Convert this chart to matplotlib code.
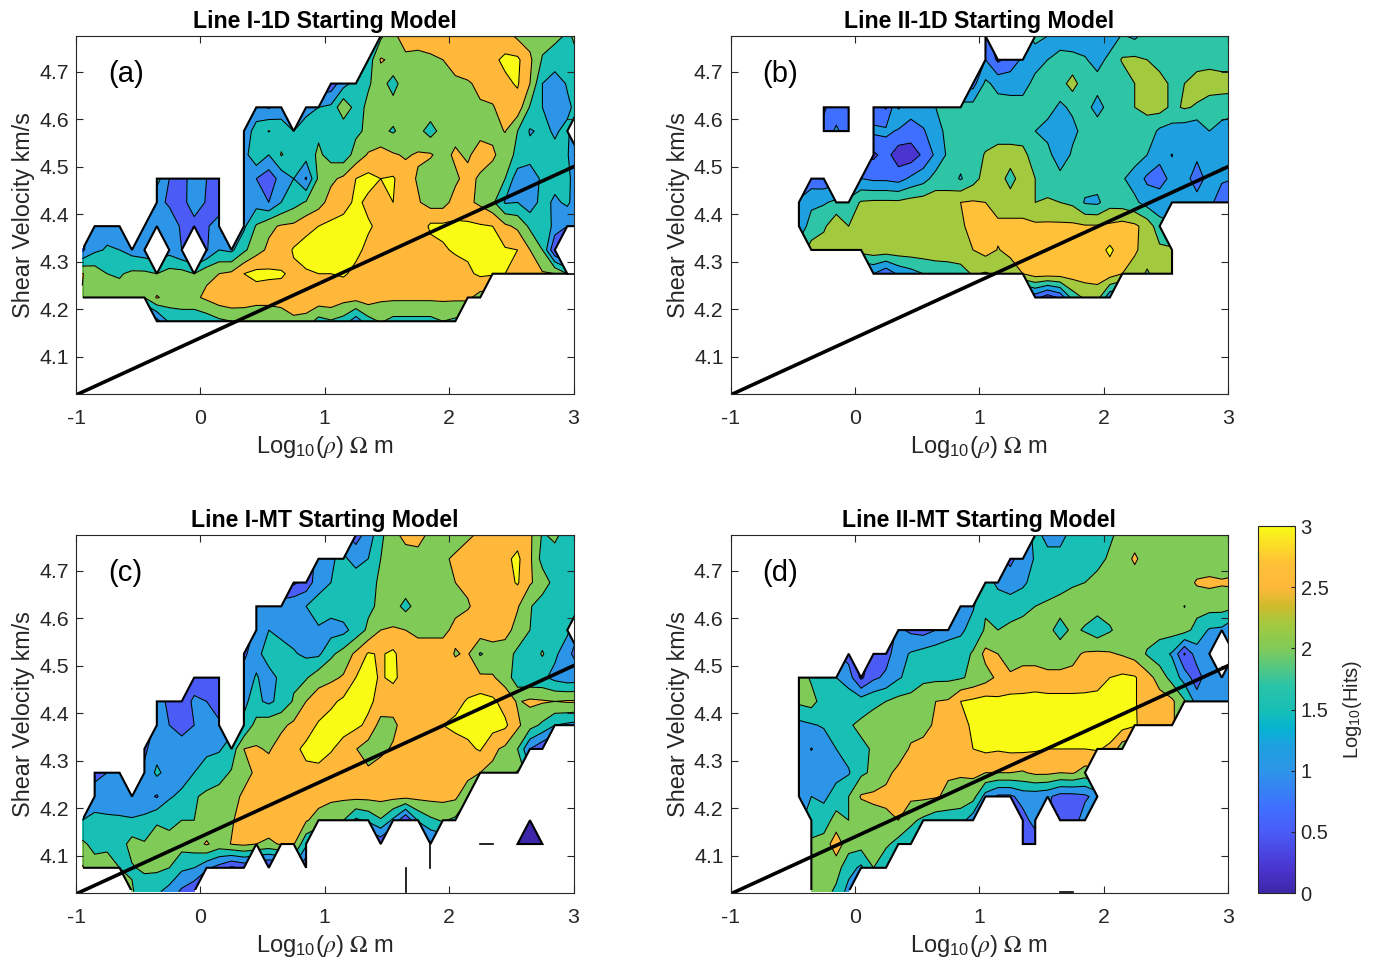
import numpy as np
import matplotlib
matplotlib.use('Agg')
import matplotlib.pyplot as plt
from matplotlib.colors import LinearSegmentedColormap
from matplotlib.cm import ScalarMappable
from matplotlib.colors import Normalize
from matplotlib.patches import PathPatch, Rectangle

plt.rcParams['font.family'] = ['Liberation Sans', 'DejaVu Sans']
plt.rcParams['axes.unicode_minus'] = False
plt.rcParams['mathtext.fontset'] = 'custom'
plt.rcParams['mathtext.rm'] = 'Liberation Sans'
plt.rcParams['mathtext.it'] = 'STIXGeneral:italic'
plt.rcParams['mathtext.cal'] = 'STIXGeneral'
plt.rcParams['mathtext.bf'] = 'Liberation Sans:bold'

# grid of the hit counts: log10 resistivity columns, shear velocity rows
log_rho = [-0.95 + 0.1 * k for k in range(41)]
vs = [4.025 + 0.05 * k for k in range(16)]

line_x = [-1, 3]
line_y = [4.02, 4.5]

# every row runs from 4.775 km/s down to 4.025 km/s, as (first column, values)
hits_a = [
    [(24, [1.9, 2.4, 2.7, 2.8, 2.8, 2.8, 2.8, 2.8, 2.8, 2.8, 2.7, 2.4, 2.3, 2.2, 2.1, 1.95, 2.1])],
    [(23, [1.7, 2.55, 2.4, 2.4, 2.3, 2.4, 2.5, 2.7, 2.8, 2.8, 2.9, 3.1, 3.1, 2.6, 1.95, 1.8, 1.9, 2.0])],
    [(20, [.7, 1.3, 1.7, 1.95, 2.2, 1.8, 2.3, 2.3, 2.3, 2.3, 2.4, 2.45, 2.6, 2.8, 2.9, 3.05, 2.5, 1.5, 1.2, 1.55, 1.8])],
    [(14, [1.2, .95, 1.2]), (18, [1.3, 1.5, 1.6, 2.4, 1.8, 2.1, 2.2, 2.2, 2.3, 2.3, 2.3, 2.3, 2.3, 2.4, 2.45, 2.45, 2.8, 2.8, 1.95, 1.5, 1.2, 1.4, 1.7])],
    [(13, [1.2, 1.7, 2.02, 1.8, 1.5, 1.8, 1.9, 1.8, 1.6, 1.9, 2.1, 2.1, 1.95, 2.2, 2.15, 1.8, 2.2, 2.3, 2.3, 2.3, 2.35, 2.52, 2.0, 1.45, 1.6, 1.45, 1.6])],
    [(13, [1.3, 1.9, 1.5, 2.03, 1.8, 1.7, 2.1, 1.8, 1.7, 2.2, 2.55, 2.7, 2.55, 2.45, 2.55, 2.55, 2.3, 2.6, 2.4, 2.8, 2.6, 2.2, 1.9, 1.7, 1.6, 1.6, 1.55, .9])],
    [(6, [1.7, 1.0, .85, 1.2, 1.0, .8]), (13, [1.2, 1.0, .7, 1.2, 1.5, .95, 2.1, 2.4, 2.6, 3.0, 3.15, 3.0, 3.05, 2.7, 2.45, 2.2, 2.3, 2.4, 2.7, 2.4, 2.2, 2.0, 1.2, 1.2, 1.6, 1.7, 1.7, .9])],
    [(6, [1.1, .95, .8, 1.3, .95, .75]), (13, [1.2, 1.3, 1.0, 1.5, 1.8, 2.05, 2.3, 2.7, 2.8, 3.1, 2.9, 2.7, 3.0, 2.8, 2.55, 2.3, 2.3, 2.7, 2.6, 2.4, 2.1, 1.45, 1.5, 1.2, 1.7, 1.4, 1.6, 1.1])],
    [(1, [1.4, 1.3, 1.2]), (5, [1.1, 1.2, 1.2, .95, .8, .95, 1.2]), (13, [1.4, 2.05, 2.4, 2.55, 2.6, 2.85, 3.0, 3.1, 3.2, 3.2, 3.05, 2.9, 2.8, 2.7, 2.6, 3.1, 3.1, 3.1, 3.1, 3.05, 3.0, 2.6, 2.4, 1.9, 2.0, 1.3, 1.0, 1.0])],
    [(0, [.9, 1.4, 1.55, 1.5, 1.3, 1.2]), (7, [1.3, 1.0]), (10, [.95, 1.5, 1.4, 1.9, 2.3, 2.6, 2.7, 3.05, 3.2, 3.3, 3.3, 3.3, 3.1, 2.9, 2.7, 2.7, 2.7, 2.7, 2.8, 2.95, 3.05, 3.1, 3.2, 3.15, 3.05, 3.0, 2.5, 2.0, .5])],
    [(0, [2.52, 2.3, 2.0, 1.95, 2.1, 2.1, 2.0, 2.2, 2.2, 2.0, 2.4, 2.5, 2.6, 3.0, 3.15, 3.1, 3.05, 2.9, 2.95, 3.0, 3.0, 3.05, 2.9, 2.8, 2.7, 2.7, 2.7, 2.7, 2.75, 2.8, 2.8, 2.9, 3.1, 3.05, 3.0, 2.8, 2.7, 2.55, 2.5, 2.0, 2.0])],
    [(0, [2.48, 2.3, 2.3, 2.2, 2.1, 2.0, 2.55, 2.3, 2.3, 2.4, 2.6, 2.8, 2.9, 2.8, 2.7, 2.7, 2.8, 2.8, 2.9, 2.9, 2.9, 2.7, 2.7, 2.8, 2.6, 2.6, 2.6, 2.6, 2.6, 2.6, 2.6, 2.6, 2.3])],
    [(6, [.8, 1.6, 1.7, 1.6, 1.7, 1.9, 2.0, 2.1, 2.1, 2.1, 2.1, 2.4, 2.3, 1.8, 1.95, 1.8, 1.2, 1.8, 2.05, 1.85, 1.85, 1.85, 1.85, 2.0, 1.9])],
    [],
    [],
    [],
]

hits_b = [
    [(20, [.9]), (24, [1.8, 1.7, 1.4, 1.4, 1.4, 1.4, 1.4, 1.75, 1.6, 1.9, 1.9, 1.9, 1.9, 1.9, 1.9, 1.9, 1.9])],
    [(20, [1.2, .6, .9, 1.3, 1.5, 1.7, 1.9, 1.85, 1.75, 1.5, 1.85, 2.25, 2.3, 2.2, 2.0, 2.0, 2.0, 2.0, 2.0, 2.0, 2.0])],
    [(19, [1.0, 1.8, 1.55, 1.5, 1.5, 1.85, 1.9, 2.0, 2.4, 1.9, 1.9, 1.9, 1.9, 2.2, 2.5, 2.4, 2.1, 2.2, 2.4, 2.5, 2.4, 2.4])],
    [(7, [.65, .9, .9]), (11, [.9, .65, 1.75, 1.4, 1.5, 1.7, 1.9, 1.9, 1.9, 1.9, 1.9, 1.9, 1.9, 1.9, 1.9, 1.6, 1.8, 1.9, 1.5, 1.9, 2.0, 2.2, 2.3, 2.4, 2.1, 2.25, 2.15, 1.9, 1.95, 1.9])],
    [(7, [.8, 1.3, .9]), (11, [1.3, 1.3, 1.15, 1.0, 1.15, 1.5, 1.85, 1.9, 1.9, 1.9, 1.95, 1.95, 1.95, 1.7, 1.5, 1.4, 1.55, 1.9, 2.0, 2.0, 2.1, 2.2, 2.0, 1.6, 1.5, 1.4, 1.3, 1.7, 1.5, 1.4])],
    [(11, [.6, .9, .4, .4, .8, 1.3, 1.8, 1.9, 1.9, 2.25, 2.4, 2.4, 2.35, 1.95, 1.9, 1.3, 1.8, 1.9, 1.9, 1.9, 1.9, 1.9, 1.7, 1.3, 1.19, 1.4, 1.3, 1.4, 1.4, 1.4])],
    [(6, [.9, .85]), (10, [1.2, 1.1, 1.1, 1.0, 1.3, 1.5, 1.9, 1.95, 1.65, 2.0, 2.4, 2.4, 2.05, 2.4, 2.2, 2.0, 1.9, 1.9, 1.9, 1.9, 1.9, 1.75, 1.5, 1.1, 1.05, 1.3, 1.4, .95, 1.4, 1.3, 1.2])],
    [(5, [1.3, 1.6, 1.65, 1.8, 1.9, 2.25, 2.3, 2.3, 2.3, 2.4, 2.45, 2.5, 2.45, 2.7, 2.75, 2.7, 2.5, 2.4, 2.4, 2.2, 2.25, 2.2, 2.1, 1.65, 1.6, 2.0, 1.95, 1.8, 1.5, 1.4, 1.3, 1.5, 1.4, 1.4, .8, .8])],
    [(5, [1.4, 1.9, 2.1, 2.6, 2.2, 2.4, 2.5, 2.5, 2.5, 2.5, 2.5, 2.5, 2.55, 2.6, 2.9, 3.0, 2.8, 2.85, 2.85, 2.8, 2.8, 2.8, 2.8, 2.75, 2.75, 2.8, 2.9, 2.8, 2.5, 1.9])],
    [(6, [2.4, 2.5, 2.5, 2.5, 2.4, 2.5, 2.5, 2.5, 2.5, 2.5, 2.5, 2.5, 2.5, 2.7, 2.9, 2.68, 2.8, 2.85, 2.95, 2.95, 3.0, 3.0, 3.0, 3.0, 3.3, 2.95, 2.8, 2.4, 2.3, 2.25])],
    [(11, [1.2, .8, 1.3, 1.5, 1.7, 1.85, 1.9, 2.0, 2.25, 2.15, 2.3, 2.5, 2.7, 2.95, 2.95, 2.95, 2.95, 2.95, 2.95, 2.95, 2.7, 2.4, 2.15, 2.4, 2.3])],
    [(24, [.9, .4, .8, 1.9, 2.3, 2.4, 1.3])],
    [],
    [],
    [],
    [],
]

hits_c = [
    [(22, [.8, 1.2, 1.9, 2.3, 2.7, 2.8, 2.3, 2.2, 2.2, 2.4, 2.6, 2.8, 2.8, 2.8, 2.6, 1.95, 2.1, 1.8, 1.8])],
    [(19, [1.2, 1.45, 1.6, 1.3, 1.5, 2.0, 2.2, 2.2, 2.2, 2.3, 2.4, 2.6, 2.8, 2.8, 2.8, 2.9, 3.1, 2.6, 1.8, 1.8, 1.7, 1.7])],
    [(17, [.4, .7, 1.3, 1.5, 1.7, 1.8, 1.9, 2.05, 2.2, 2.3, 2.2, 2.3, 2.4, 2.5, 2.6, 2.7, 2.8, 2.8, 3.05, 2.55, 2.3, 1.8, 1.7, 1.7])],
    [(14, [1.2, 1.2, 1.3, 1.4, 1.5, 1.7, 1.7, 1.8, 1.8, 1.9, 2.1, 2.2, 1.85, 2.2, 2.2, 2.3, 2.4, 2.45, 2.7, 2.8, 2.8, 2.55, 2.05, 1.7, 1.7, 1.7, 1.7])],
    [(14, [1.1, 1.5, 1.3, 1.3, 1.3, 1.45, 1.3, 1.35, 1.7, 2.1, 2.5, 2.55, 2.5, 2.4, 2.4, 2.4, 2.6, 2.8, 2.8, 2.8, 2.7, 2.3, 2.0, 1.7, 1.7, 1.6])],
    [(13, [.9, 1.3, 1.8, 1.8, 1.55, 1.4, 1.4, 1.9, 2.2, 2.6, 3.05, 2.95, 3.1, 2.7, 2.7, 2.7, 2.7, 2.47, 2.55, 1.95, 2.2, 2.2, 1.9, 1.7, 2.05, 1.6, 1.2, .6])],
    [(9, [.7, .75, .75]), (13, [1.2, 1.55, 1.25, 1.65, 1.9, 1.95, 2.3, 2.4, 2.55, 3.0, 3.15, 2.95, 3.1, 2.8, 2.7, 2.7, 2.7, 2.7, 2.7, 2.6, 2.55, 2.3, 1.7, 1.6, 1.6, 1.35, 1.2, 1.25])],
    [(6, [1.2, .9, .7, 1.1, 1.0, .7]), (13, [1.45, 1.6, 1.4, 1.65, 2.05, 2.5, 2.75, 2.9, 3.1, 3.1, 3.1, 2.85, 2.7, 2.7, 2.7, 2.7, 2.75, 2.85, 3.05, 3.2, 3.1, 2.8, 2.45, 2.6, 2.55, 2.5, 2.55, 2.55])],
    [(6, [1.1, 1.0, .75, 1.0, 1.2, 1.1]), (13, [1.55, 2.2, 2.3, 2.4, 2.6, 2.8, 3.05, 3.2, 3.2, 3.1, 2.9, 2.3, 2.4, 2.7, 2.7, 2.75, 3.0, 3.1, 3.15, 3.2, 3.2, 3.1, 2.6, 2.2, 1.9, 1.5, 1.4, 1.3])],
    [(5, [.9, 1.3, 1.3, 1.3, 1.35, 1.4, 1.45, 1.7, 2.5, 2.55, 2.45, 2.7, 2.9, 3.1, 3.3, 3.05, 2.8, 2.52, 2.25, 2.4, 2.55, 2.7, 2.7, 2.7, 2.7, 2.8, 2.9, 3.05, 2.6, 2.4, 2.0, 1.0, .6])],
    [(1, [.8, 1.0, 1.1]), (5, [1.1, 1.6, 1.3, 1.3, 1.5, 1.7, 1.8, 2.05, 2.3, 2.6, 2.7, 2.7, 2.8, 2.9, 2.8, 2.7, 2.7, 2.7, 2.6, 2.7, 2.7, 2.7, 2.7, 2.7, 2.7, 2.75, 2.7, 2.5, 2.4, 2.2, 2.55])],
    [(1, [1.3, 1.2, 1.1, 1.1, 1.2, .95, 1.45, 1.6, 1.95, 2.1, 2.2, 2.3, 2.6, 2.7, 2.7, 2.7, 2.7, 2.7, 2.7, 2.6, 2.6, 2.65, 2.65, 2.65, 2.65, 2.65, 2.65, 2.65, 2.65, 2.6, 2.1])],
    [(0, [1.5, 1.6, 1.6, 1.6, 1.55, 1.6, 1.95, 1.85, 2.0, 2.0, 2.2, 2.3, 2.45, 2.7, 2.8, 2.8, 2.8, 2.8, 2.55, 2.3, 2.2, 2.0, 1.4, 1.6, 1.95, 1.4, .5, 1.55, 1.9, 2.05, 1.9]), (36, [.2])],
    [(0, [2.1, 1.85, 1.9, 1.75, 2.2, 2.05, 2.2, 2.2, 2.2, 2.3, 2.55, 2.3, 2.52, 2.6, 2.5, 2.4, 2.55, 2.55, 1.6]), (24, [.6]), (28, [.9]), (32, [.2, .2]), (35, [.2, .2, .2])],
    [(0, [2.55, 2.2, 2.2, 2.0, 1.95, 2.1, 2.1, 2.0, 1.6, 1.5, 1.1, .8, .4, .6]), (15, [.3]), (18, [.5]), (26, [.2]), (28, [.2])],
    [(4, [2.05, 1.7, 1.6, 1.3, .9, .6]), (26, [.2])],
]

hits_d = [
    [(24, [1.6, 1.4, 1.3, 1.7, 1.8, 1.9, 1.95, 2.1, 2.2, 2.2, 2.2, 2.2, 2.2, 2.2, 2.2, 2.2, 2.2])],
    [(22, [.9, 1.2, 1.55, 1.6, 1.7, 1.75, 1.85, 1.9, 2.05, 2.2, 2.6, 2.2, 2.2, 2.2, 2.2, 2.2, 2.2, 2.2, 2.2])],
    [(20, [1.7, 1.4, 1.2, 1.4, 1.7, 1.7, 1.8, 1.95, 2.0, 2.1, 2.2, 2.2, 2.2, 2.2, 2.2, 2.3, 2.3, 2.55, 2.6, 2.55, 2.6])],
    [(18, [1.2, 1.45, 1.95, 1.75, 1.8, 1.85, 2.0, 2.1, 2.2, 2.2, 2.2, 2.2, 2.2, 2.2, 2.2, 2.2, 2.2, 2.2, 1.99, 2.2, 2.2, 2.2, 2.1])],
    [(13, [1.1, .9, .8, 1.0, 1.2, 1.4, 1.7, 2.05, 2.0, 2.1, 2.2, 2.2, 2.15, 1.8, 2.1, 1.95, 1.7, 1.95, 2.2, 2.2, 2.2, 2.2, 2.2, 2.2, 1.8, 1.45, 1.4, 1.0])],
    [(9, [.8]), (11, [.7, .8, 1.3, 1.55, 1.7, 1.8, 1.9, 1.8, 2.05, 2.65, 2.5, 2.35, 2.4, 2.3, 2.3, 2.3, 2.4, 2.55, 2.6, 2.55, 2.45, 2.3, 1.95, 1.7, 1.45, .45, 1.3, 1.4]), (40, [1.2])],
    [(5, [2.3, 1.92, 1.8, 1.5, 1.25, .4, .9, 1.1, 1.45, 1.65, 1.9, 1.9, 1.9, 1.95, 2.1, 2.3, 2.6, 2.55, 2.6, 2.7, 2.6, 2.6, 2.6, 2.65, 2.75, 3.0, 3.1, 3.05, 2.7, 2.3, 1.8, 1.3, .7, 1.4, 1.4, 1.3])],
    [(5, [2.1, 2.2, 1.75, 1.7, 1.8, 1.75, 1.9, 2.0, 2.15, 2.2, 2.3, 2.5, 2.55, 3.0, 3.1, 3.2, 3.1, 3.2, 3.2, 3.2, 3.2, 3.2, 3.2, 3.2, 3.2, 3.3, 3.3, 3.05, 2.7, 2.7, 2.6, 2.05, 1.3, 1.5, 1.3, 1.5])],
    [(5, [1.35, 1.45, 1.55, 1.98, 1.95, 2.1, 2.2, 2.3, 2.3, 2.35, 2.4, 2.55, 2.6, 2.8, 3.1, 3.3, 3.3, 3.3, 3.3, 3.3, 3.3, 3.3, 3.3, 3.3, 3.3, 3.3, 3.2, 3.05, 2.8, 2.7, 2.6])],
    [(5, [1.25, .98, 1.2, 1.5, 1.7, 1.9, 2.05, 2.2, 2.3, 2.55, 2.6, 2.7, 2.7, 2.8, 3.0, 3.1, 3.05, 3.1, 3.1, 3.05, 3.0, 3.0, 3.0, 3.0, 3.05, 2.9, 2.2])],
    [(5, [1.2, 1.3, 1.3, 1.35, 1.45, 1.9, 2.1, 2.4, 2.6, 2.65, 2.7, 2.6, 2.55, 2.55, 2.6, 2.5, 2.5, 2.5, 2.45, 2.6, 2.6, 2.5, 2.55, 2.3])],
    [(5, [1.2, 1.5, 1.4, 1.7, 2.0, 2.55, 2.6, 2.6, 2.6, 2.6, 2.6, 2.55, 2.4, 2.3, 2.2, 1.3, .9, .9, 1.2, 1.2, 1.1, .8, .8, .9, 1.2])],
    [(6, [1.7, 1.75, 2.2, 2.0, 2.1, 2.3, 2.4, 2.5, 2.1, 1.9, 1.7, 1.7, 1.7, 1.2]), (23, [.8, 1.2]), (26, [.7, .7, 1.3])],
    [(6, [2.1, 2.2, 2.8, 2.2, 2.2, 2.2, 2.1, 1.8, 1.7]), (23, [.7, .7])],
    [(6, [2.1, 2.1, 2.2, 1.7, 1.4, 2.0, 1.55])],
    [(6, [2.2, 2.2, 1.9, 1.3]), (26, [.2, .2])],
]

titles = ['Line I-1D Starting Model', 'Line II-1D Starting Model',
          'Line I-MT Starting Model', 'Line II-MT Starting Model']
tags = ['(a)', '(b)', '(c)', '(d)']
first_levels = [0.0, 0.2, 0.0, 0.0]

# parula, colours picked off the colorbar
stops = [(0, '#3e26a8'), (.2, '#4a35d0'), (.5, '#4a5cf7'), (.7, '#3f70ff'), (1, '#2d95e8'),
         (1.2, '#1ea0e0'), (1.35, '#06b4d0'), (1.5, '#17bfb5'), (1.7, '#2cc4a8'), (2, '#80cb58'),
         (2.2, '#a3c93f'), (2.35, '#cfbb2c'), (2.5, '#ffb83a'), (2.7, '#ffc038'), (3, '#f9fb15')]
parula = LinearSegmentedColormap.from_list('parula', [(v / 3, c) for v, c in stops], N=256)
BOX = '#262626'
XLIM = (-1, 3)
YLIM = (4.022, 4.775)


def to_grid(rows):
    z = np.full((16, 41), np.nan)
    for k, spans in enumerate(rows):
        for start, vals in spans:
            z[15 - k, start:start + len(vals)] = vals
    return z


def draw_panel(ax, rows, title, tag, first):
    x, y = np.meshgrid(log_rho, vs)
    z = np.ma.masked_invalid(to_grid(rows))
    levels = [first + 0.5 * k for k in range(7)]
    colors = [parula(min(v / 3, 1.0)) for v in levels]
    ax.contourf(x, y, z, levels=levels + [9], colors=colors)
    ax.contour(x, y, z, levels=levels, colors='k', linewidths=0.75)
    # edge of the data region, but not along the outer side of the grid
    edge = ax.contourf(x, y, z, levels=[-9, 9], colors='none')
    x0, y0 = log_rho[0] + 0.006, vs[0] + 0.004
    keep = Rectangle((x0, y0), XLIM[1] - x0, YLIM[1] - y0, transform=ax.transData)
    for p in edge.get_paths():
        patch = PathPatch(p, fill=False, ec='k', lw=1.5, joinstyle='miter')
        ax.add_patch(patch)
        patch.set_clip_path(keep)
    # cells too thin to fill still leave a line behind
    ok = ~z.mask
    for j in range(16):
        for i in range(41):
            if not ok[j, i]:
                continue
            for dj, di in ((0, 1), (1, 0)):
                if j + dj > 15 or i + di > 40 or not ok[j + dj, i + di]:
                    continue
                near = 0
                for sj, si in ((1, 0), (-1, 0)) if dj == 0 else ((0, 1), (0, -1)):
                    a, b = j + sj, i + si
                    if 0 <= a < 16 and 0 <= b < 41 and ok[a, b]:
                        near += 1
                    a, b = j + dj + sj, i + di + si
                    if 0 <= a < 16 and 0 <= b < 41 and ok[a, b]:
                        near += 1
                if near == 0:
                    ax.plot([log_rho[i], log_rho[i + di]], [vs[j], vs[j + dj]], color='k', lw=1.2)
    ax.plot(line_x, line_y, color='k', lw=2.6)
    ax.set_xlim(*XLIM)
    ax.set_ylim(*YLIM)
    ax.set_xticks([-1, 0, 1, 2, 3])
    ax.set_yticks([4.1, 4.2, 4.3, 4.4, 4.5, 4.6, 4.7])
    ax.tick_params(direction='in', top=True, right=True, length=5, width=0.8, color=BOX,
                   labelcolor=BOX, labelsize=15.3, pad=5)
    ax.tick_params(axis='x', pad=11)
    for s in ax.spines.values():
        s.set_color(BOX)
        s.set_linewidth(0.8)
    ax.set_xlabel(r'Log$_{10}$($\rho$) $\mathcal{\Omega}$ m', fontsize=17, color=BOX, labelpad=4)
    ax.set_ylabel('Shear Velocity km/s', fontsize=16.8, color=BOX, labelpad=3)
    ax.set_title(title, fontsize=16.7, fontweight='bold', color='k', pad=6)
    ax.text(0.064, 0.895, tag, transform=ax.transAxes, fontsize=21, color='k', ha='left', va='center')


W, H = 1376, 963
fig = plt.figure(figsize=(W / 100, H / 100), dpi=100)
boxes = [(76, 36), (730.5, 36), (76, 535), (730.5, 535)]
panels = [hits_a, hits_b, hits_c, hits_d]
for (left, top), rows, title, tag, first in zip(boxes, panels, titles, tags, first_levels):
    ax = fig.add_axes([left / W, 1 - (top + 358) / H, 497.5 / W, 358 / H])
    draw_panel(ax, rows, title, tag, first)

cax = fig.add_axes([1258 / W, 1 - 893 / H, 37 / W, 367 / H])
cb = fig.colorbar(ScalarMappable(Normalize(0, 3), parula), cax=cax)
cb.set_ticks([0, 0.5, 1, 1.5, 2, 2.5, 3])
cb.set_ticklabels(['0', '0.5', '1', '1.5', '2', '2.5', '3'])
cax.tick_params(direction='in', length=3, width=0.8, color=BOX, labelcolor=BOX, labelsize=14.5, pad=4)
cb.outline.set_edgecolor(BOX)
cb.outline.set_linewidth(0.8)
cb.set_label(r'Log$_{10}$(Hits)', fontsize=14.5, color=BOX, labelpad=9)

fig.savefig('out.png', dpi=100)
